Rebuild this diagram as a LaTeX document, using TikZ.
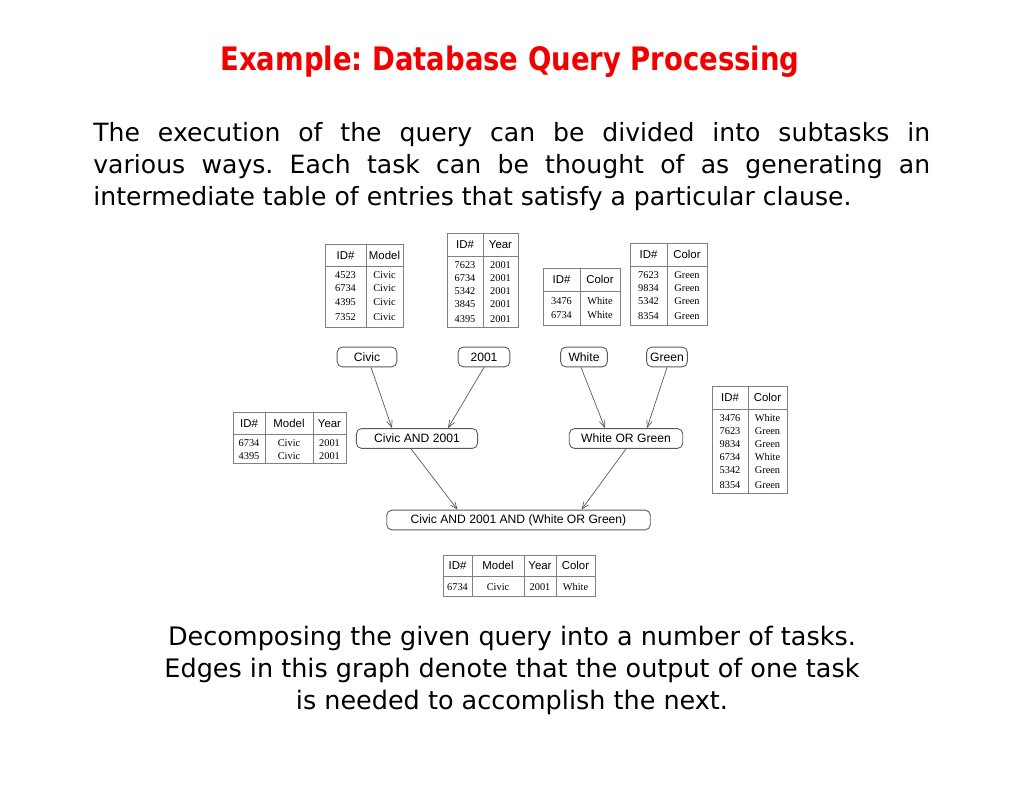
\documentclass[tikz,border=0pt]{standalone}
\usepackage{fontspec}
\setmainfont{DejaVu Sans}
\newfontfamily\titlefont[FakeStretch=0.85]{DejaVu Sans}
\newfontfamily\helv{Liberation Sans}
\newfontfamily\tms{Liberation Serif}
\usetikzlibrary{arrows.meta}
\definecolor{titlered}{RGB}{242,0,0}
\definecolor{edgegray}{RGB}{90,90,90}
\frenchspacing
\tikzset{
  task/.style={draw=edgegray, line width=0.5pt, rounded corners=3pt, minimum height=11.3pt, inner sep=1pt, font=\helv\fontsize{6.9}{8}\selectfont},
  conn/.style={draw=edgegray, line width=0.4pt, -{Straight Barb[length=4pt,width=3.2pt]}},
  tab/.style={draw=black!50, line width=0.5pt},
  hd/.style={font=\helv\fontsize{6.5}{8}\selectfont, inner sep=0pt, text height=4.7pt, text depth=0pt},
  cell/.style={font=\tms\fontsize{5.9}{7}\selectfont, inner sep=0pt, text height=3.9pt, text depth=0pt},
}
\begin{document}
\begin{tikzpicture}[x=0.02cm, y=-0.02cm]
	\useasboundingbox (0,0) rectangle (1024,791);
	% title and text
	\node[anchor=base, inner sep=0pt, text=titlered, font=\titlefont\bfseries\fontsize{18.4}{22}\selectfont] (title) at (510,70) {Example: Database Query Processing};
	\node[anchor=north west, inner sep=0pt, text width=16.74cm, align=justify, font=\fontsize{14.3}{18.1}\selectfont] (intro) at (93,122)
		{The execution of the query can be divided into subtasks in\linebreak various ways. Each task can be thought of as generating an\linebreak intermediate table of entries that satisfy a particular clause.};
	\node[anchor=north, inner sep=0pt, align=center, font=\fontsize{14.5}{18.1}\selectfont] (caption) at (512,626)
		{Decomposing the given query into a number of tasks.\\ Edges in this graph denote that the output of one task\\ is needed to accomplish the next.};

	% table ID# Model
	\draw[tab] (325,244) rectangle (403,327);
	\draw[tab] (325,266) -- (403,266);
	\draw[tab] (366,244) -- (366,327);
	\node[hd] (ma) at (345.5,255) {ID\#};
	\node[hd] (mb) at (384.5,255) {Model};
	\foreach \id/\yy [count=\i] in {4523/275, 6734/288, 4395/302, 7352/317} {
		\node[cell] (mid\i) at (345.5,\yy) {\id};
		\node[cell] (mval\i) at (384.5,\yy) {Civic};
	}

	% table ID# Year
	\draw[tab] (447,233) rectangle (518,327);
	\draw[tab] (447,256) -- (518,256);
	\draw[tab] (483,233) -- (483,327);
	\node[hd] (ya) at (465,244.5) {ID\#};
	\node[hd] (yb) at (500.5,244.5) {Year};
	\foreach \id/\yy [count=\i] in {7623/265, 6734/278, 5342/291, 3845/304, 4395/319} {
		\node[cell] (yid\i) at (465,\yy) {\id};
		\node[cell] (yval\i) at (500.5,\yy) {2001};
	}

	% table ID# Color (White)
	\draw[tab] (543,268) rectangle (620,325);
	\draw[tab] (543,291) -- (620,291);
	\draw[tab] (580,268) -- (580,325);
	\node[hd] (wa) at (561.5,279.5) {ID\#};
	\node[hd] (wb) at (600,279.5) {Color};
	\foreach \id/\yy [count=\i] in {3476/301, 6734/315} {
		\node[cell] (wid\i) at (561.5,\yy) {\id};
		\node[cell] (wval\i) at (600,\yy) {White};
	}

	% table ID# Color (Green)
	\draw[tab] (630,243) rectangle (707,325);
	\draw[tab] (630,266) -- (707,266);
	\draw[tab] (667,243) -- (667,325);
	\node[hd] (ga) at (648.5,254.5) {ID\#};
	\node[hd] (gb) at (687,254.5) {Color};
	\foreach \id/\yy [count=\i] in {7623/275, 9834/288, 5342/301, 8354/316} {
		\node[cell] (gid\i) at (648.5,\yy) {\id};
		\node[cell] (gval\i) at (687,\yy) {Green};
	}

	% table ID# Model Year
	\draw[tab] (233,412) rectangle (346,463);
	\draw[tab] (233,434) -- (346,434);
	\draw[tab] (265,412) -- (265,463);
	\draw[tab] (313,412) -- (313,463);
	\node[hd] (ca) at (249,423) {ID\#};
	\node[hd] (cb) at (289,423) {Model};
	\node[hd] (cc) at (329.5,423) {Year};
	\foreach \id/\yy [count=\i] in {6734/443, 4395/456} {
		\node[cell] (cid\i) at (249,\yy) {\id};
		\node[cell] (cmod\i) at (289,\yy) {Civic};
		\node[cell] (cyr\i) at (329.5,\yy) {2001};
	}

	% table ID# Color (White or Green)
	\draw[tab] (712,386) rectangle (787,493);
	\draw[tab] (712,409) -- (787,409);
	\draw[tab] (748,386) -- (748,493);
	\node[hd] (oa) at (730,397.5) {ID\#};
	\node[hd] (ob) at (767.5,397.5) {Color};
	\foreach \id/\col/\yy [count=\i] in {3476/White/418, 7623/Green/431, 9834/Green/444, 6734/White/457, 5342/Green/470, 8354/Green/485} {
		\node[cell] (oid\i) at (730,\yy) {\id};
		\node[cell] (oval\i) at (767.5,\yy) {\col};
	}

	% result table
	\draw[tab] (443,555) rectangle (595,596);
	\draw[tab] (443,576) -- (595,576);
	\foreach \xx in {472,524,556}
		\draw[tab] (\xx,555) -- (\xx,596);
	\node[hd] (ra) at (457.5,565.5) {ID\#};
	\node[hd] (rb) at (498,565.5) {Model};
	\node[hd] (rc) at (540,565.5) {Year};
	\node[hd] (rd) at (575.5,565.5) {Color};
	\node[cell] (rid) at (457.5,587) {6734};
	\node[cell] (rmod) at (498,587) {Civic};
	\node[cell] (ryr) at (540,587) {2001};
	\node[cell] (rcol) at (575.5,587) {White};

	% task graph
	\node[task, minimum width=34pt] (civic) at (367,357) {Civic};
	\node[task, minimum width=29.5pt] (yr) at (484,357) {2001};
	\node[task, minimum width=26.6pt] (white) at (584,357) {White};
	\node[task, minimum width=23.2pt] (green) at (667,357) {Green};
	\node[task, minimum width=69pt] (andA) at (417,438.5) {Civic AND 2001};
	\node[task, minimum width=64.6pt] (orB) at (626,438.5) {White OR Green};
	\node[task, minimum width=150pt] (final) at (518.5,520) {Civic AND 2001 AND (White OR Green)};

	\draw[conn] ([xshift=0.08cm]civic.south) -- ([xshift=-0.5cm]andA.north);
	\draw[conn] (yr.south) -- ([xshift=0.62cm]andA.north);
	\draw[conn] ([xshift=-0.06cm]white.south) -- ([xshift=-0.42cm]orB.north);
	\draw[conn] (green.south) -- ([xshift=0.42cm]orB.north);
	\draw[conn] ([xshift=-0.12cm]andA.south) -- ([xshift=-1.22cm]final.north);
	\draw[conn] (orB.south) -- ([xshift=1.26cm]final.north);
\end{tikzpicture}
\end{document}
